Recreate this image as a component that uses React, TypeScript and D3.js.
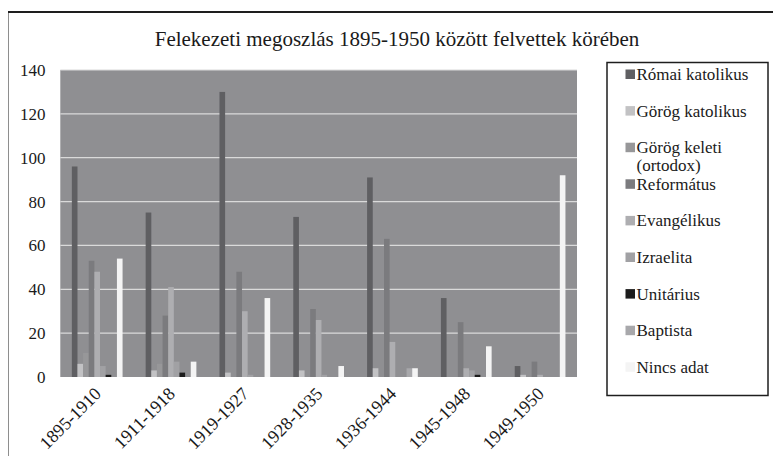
import React from 'react';
import * as d3 from 'd3';

const categories = ['1895-1910', '1911-1918', '1919-1927', '1928-1935', '1936-1944', '1945-1948', '1949-1950'];
const seriesNames = ['Római katolikus', 'Görög katolikus', 'Görög keleti', 'Református', 'Evangélikus', 'Izraelita', 'Unitárius', 'Baptista', 'Nincs adat'];
const romaiKatolikus = [96, 75, 130, 73, 91, 36, 5];
const gorogKatolikus = [6, 3, 2, 3, 4, 0, 1];
const gorogKeleti = [11, 6, 0, 0, 0, 0, 0];
const reformatus = [53, 28, 48, 31, 63, 25, 7];
const evangelikus = [48, 41, 30, 26, 16, 4, 1];
const izraelita = [5, 7, 1, 1, 0, 3, 0];
const unitarius = [1, 2, 0, 0, 0, 1, 0];
const baptista = [0, 0, 0, 0, 4, 0, 0];
const nincsAdat = [54, 7, 36, 5, 4, 14, 92];
const yTicks = [0, 20, 40, 60, 80, 100, 120, 140];
const colors = ['#5f5f62', '#c2c2c4', '#979799', '#7b7b7e', '#aeaeb1', '#a1a1a4', '#1c1c1c', '#a8a8ab', '#f4f4f4'];

const seriesValues = [romaiKatolikus, gorogKatolikus, gorogKeleti, reformatus, evangelikus, izraelita, unitarius, baptista, nincsAdat];

const FONT = "'Liberation Serif', Tinos, 'Times New Roman', 'DejaVu Serif', serif";

export default function App() {
  const W = 781, H = 464;
  const plot = { left: 60.3, right: 577, top: 70, bottom: 377 };
  const x0 = d3.scaleBand<string>().domain(categories).range([plot.left, plot.right]).paddingInner(0.313).paddingOuter(0.1565);
  const x1 = d3.scaleBand<string>().domain(seriesNames).range([0, x0.bandwidth()]).padding(0);
  const y = d3.scaleLinear().domain([0, 140]).range([plot.bottom, plot.top]);

  const legend = { x: 607, y: 62.5, w: 161, h: 333 };
  const rowStep = 36.6;
  const txt: React.CSSProperties = { fontFamily: FONT };

  return (
    <div style={{ margin: -8, width: W, height: H, overflow: 'hidden', background: '#fff' }}>
      <svg width={W} height={H} style={{ display: 'block', fontFamily: FONT }}>
        <rect x={0} y={0} width={W} height={H} fill="#fff" />
        <rect x={7.5} y={12} width={771} height={470} fill="none" stroke="#1e1e1e" strokeWidth={2} />
        <text x={397} y={46} textAnchor="middle" fontSize={21} fill="#1a1a1a" style={txt}>
          Felekezeti megoszlás 1895-1950 között felvettek körében
        </text>
        <rect x={plot.left} y={plot.top} width={plot.right - plot.left} height={plot.bottom - plot.top} fill="#8f8f92" />
        {yTicks.filter(t => t > 0).map(t => (
          <line key={t} x1={plot.left} x2={plot.right} y1={y(t)} y2={y(t)} stroke="#dadada" strokeWidth={1.2} />
        ))}
        {yTicks.map(t => (
          <text key={t} x={45.5} y={y(t)} dy="0.35em" textAnchor="end" fontSize={17} fill="#1a1a1a" style={txt}>{t}</text>
        ))}
        {categories.map((c, ci) => (
          <g key={c} transform={`translate(${x0(c)},0)`}>
            {seriesNames.map((s, si) => {
              const v = seriesValues[si][ci];
              if (!v) return null;
              return (
                <rect key={s} x={x1(s)} y={y(v)} width={x1.bandwidth()} height={y(0) - y(v)} fill={colors[si]} />
              );
            })}
          </g>
        ))}
        {categories.map(c => {
          const cx = (x0(c) as number) + x0.bandwidth() / 2 + 5;
          return (
            <text key={c} transform={`translate(${cx},395) rotate(-45)`} textAnchor="end" fontSize={18} fill="#1a1a1a" style={txt}>{c}</text>
          );
        })}
        <rect x={legend.x} y={legend.y} width={legend.w} height={legend.h} fill="#fff" stroke="#1e1e1e" strokeWidth={1.5} />
        {seriesNames.map((s, i) => {
          const cy = 74 + i * rowStep;
          const lines = s === 'Görög keleti' ? ['Görög keleti', '(ortodox)'] : [s];
          return (
            <g key={s}>
              <rect x={625.5} y={cy - 4.5} width={9.5} height={9.5} fill={colors[i]} />
              {lines.map((l, li) => (
                <text key={li} x={636.5} y={cy + li * 17.5} dy="0.35em" fontSize={17} fill="#1a1a1a" style={txt}>{l}</text>
              ))}
            </g>
          );
        })}
      </svg>
    </div>
  );
}
